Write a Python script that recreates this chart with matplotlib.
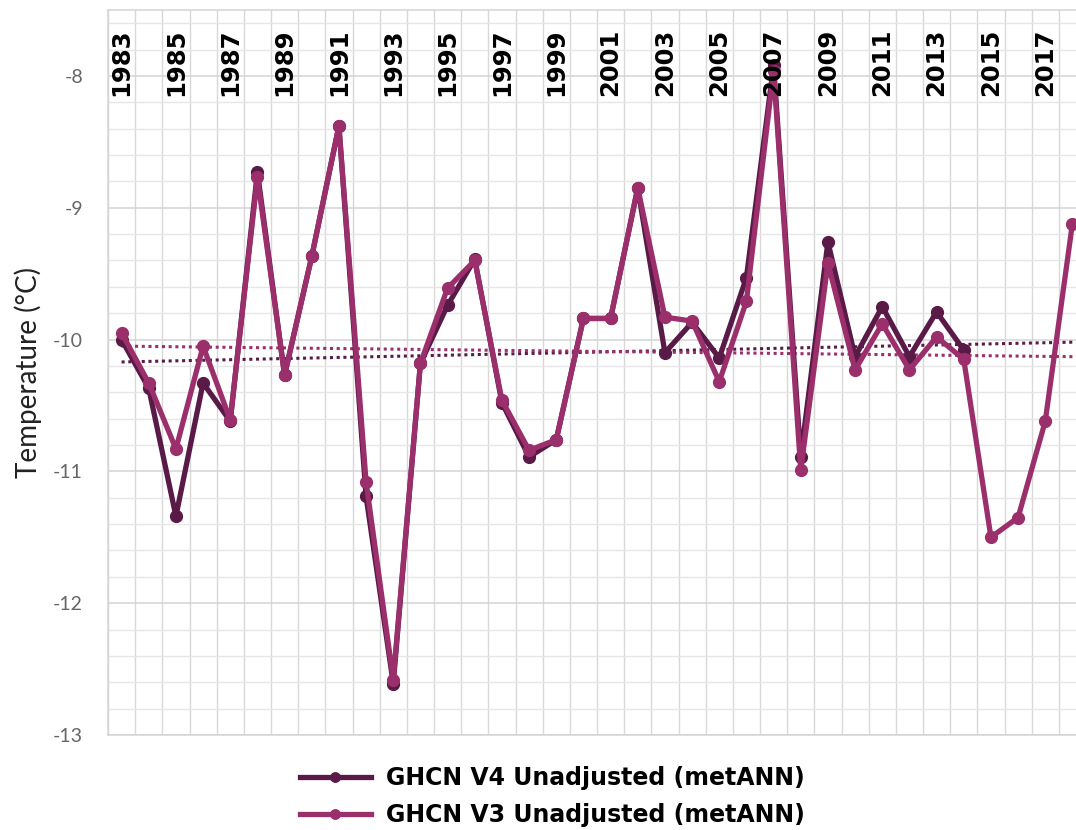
import numpy as np
import matplotlib
matplotlib.use("Agg")
import matplotlib.pyplot as plt

years = list(range(1983, 2019))

# GHCN V4 unadjusted (ends 2014)
v4 = [-10.00, -10.37, -11.34, -10.33, -10.62, -8.73, -10.27, -9.37, -8.38, -11.19,
      -12.61, -10.18, -9.74, -9.39, -10.48, -10.89, -10.76, -9.84, -9.84, -8.85,
      -10.10, -9.87, -10.14, -9.53, -7.92, -10.89, -9.26, -10.13, -9.75, -10.13,
      -9.79, -10.08, np.nan, np.nan, np.nan, np.nan]
# GHCN V3 unadjusted
v3 = [-9.95, -10.33, -10.83, -10.05, -10.61, -8.77, -10.27, -9.37, -8.38, -11.08,
      -12.58, -10.18, -9.61, -9.40, -10.46, -10.84, -10.76, -9.84, -9.84, -8.85,
      -9.83, -9.86, -10.32, -9.71, -7.96, -10.99, -9.42, -10.23, -9.88, -10.23,
      -9.98, -10.15, -11.50, -11.35, -10.62, -9.12]

# linear trend end values (1983, 2018)
trend_v4 = [-10.17, -10.02]
trend_v3 = [-10.05, -10.13]

c_v4 = "#5a1a48"
c_v3 = "#9b2f6c"

fig = plt.figure(figsize=(10.76, 8.30), dpi=100)
ax = fig.add_axes([108/1076, 1 - 735/830, (1086 - 108)/1076, (735 - 10)/830])

x = np.arange(len(years))

ax.plot([x[0], x[-1]], trend_v4, color=c_v4, lw=2.2, ls=(0, (1, 1.2)), zorder=2)
ax.plot([x[0], x[-1]], trend_v3, color=c_v3, lw=2.2, ls=(0, (1, 1.2)), zorder=2)

ax.plot(x, v4, color=c_v4, lw=3.8, marker="o", ms=8.5, label="GHCN V4 Unadjusted (metANN)", zorder=3)
ax.plot(x, v3, color=c_v3, lw=3.8, marker="o", ms=8.5, label="GHCN V3 Unadjusted (metANN)", zorder=4)

ax.set_xlim(-0.5, len(years) - 0.5)
ax.set_ylim(-13, -7.5)

# grid
ax.set_yticks(np.arange(-13, -7.9, 1))
ax.set_yticks(np.arange(-13, -7.5, 0.2), minor=True)
ax.set_xticks(np.arange(-0.5, len(years), 1), minor=True)
ax.set_xticks([])
ax.grid(which="major", axis="y", color="#d4d4d4", lw=1.1)
ax.grid(which="minor", axis="y", color="#e6e6e6", lw=1.0)
ax.grid(which="minor", axis="x", color="#d8d8d8", lw=1.0)
ax.set_axisbelow(True)
ax.tick_params(which="both", length=0)
ax.set_yticklabels([str(int(v)) for v in np.arange(-13, -7.9, 1)])
ax.tick_params(axis="y", labelsize=14, labelcolor="#666666", pad=18)
for lab in ax.get_yticklabels():
    lab.set_family("Lato")

for s in ax.spines.values():
    s.set_color("#d4d4d4")
    s.set_linewidth(1.1)

ax.set_ylabel("Temperature (\u00b0C)", fontsize=20, family="Lato", color="#222222", labelpad=8)

# year labels along the top, inside the plot
for y in range(1983, 2019, 2):
    i = years.index(y)
    ax.text(x[i], -8.15, str(y), rotation=90, ha="center", va="bottom",
            fontsize=17.5, fontweight="bold", color="black", zorder=5)

leg = fig.legend(loc="upper left", bbox_to_anchor=(300/1076, 1 - 766/830),
                 frameon=False, prop={"family": "DejaVu Sans", "weight": "bold", "size": 17},
                 handlelength=3.0, handletextpad=0.65, labelspacing=0.55,
                 borderpad=0, borderaxespad=0, markerscale=0.8)

fig.savefig("out.png", dpi=100)
